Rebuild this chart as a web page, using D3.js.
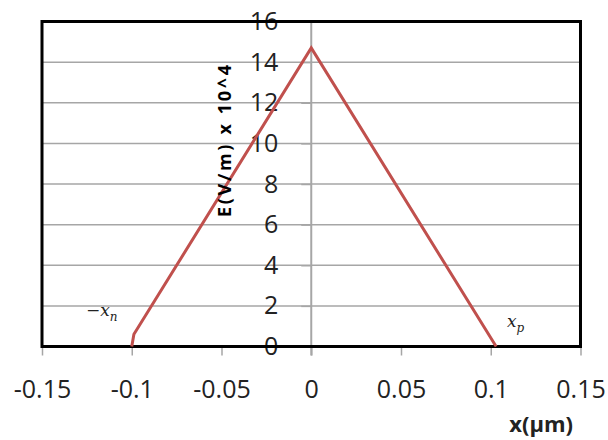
<!DOCTYPE html>
<html>
<head>
<meta charset="utf-8">
<script src="https://cdn.jsdelivr.net/npm/d3@7.9.0/dist/d3.min.js"></script>
<style>
  body { margin: 0; background: #fff; }
  svg { display: block; }
</style>
</head>
<body>
<svg width="608" height="440"></svg>
<script>
// data
const xPos = [-0.1, -0.0988, 0, 0.103];      // x (µm)
const field = [0, 0.6, 14.7, 0];               // E (V/m) x 10^4
const xTicks = [-0.15, -0.1, -0.05, 0, 0.05, 0.1, 0.15];
const yTicks = [0, 2, 4, 6, 8, 10, 12, 14, 16];

const svg = d3.select('svg');
const plotL = 42, plotR = 580.5, plotT = 21.5, plotB = 346.5;

const x = d3.scaleLinear().domain([-0.15, 0.15]).range([plotL, plotR]);
const y = d3.scaleLinear().domain([0, 16]).range([plotB, plotT]);

const grey = '#a6a6a6';
const tickFont = '"Open Sans", sans-serif';

// horizontal gridlines
svg.append('g')
  .selectAll('line')
  .data(yTicks)
  .join('line')
  .attr('x1', plotL).attr('x2', plotR)
  .attr('y1', d => y(d)).attr('y2', d => y(d))
  .attr('stroke', grey).attr('stroke-width', 1.5);

// x axis ticks (below the plot)
const xAxis = svg.append('g')
  .attr('transform', `translate(0,${plotB})`)
  .call(d3.axisBottom(x).tickValues(xTicks).tickSize(9).tickPadding(25)
    .tickFormat(d => String(+d.toFixed(2))));
xAxis.select('.domain').remove();
xAxis.selectAll('line').attr('stroke', grey).attr('stroke-width', 1.5);
xAxis.selectAll('text')
  .attr('font-family', tickFont).attr('font-size', 25).attr('fill', '#222');

// y axis on x = 0
const yAxis = svg.append('g')
  .attr('transform', `translate(${x(0)},0)`)
  .call(d3.axisLeft(y).tickValues(yTicks).tickSize(10).tickPadding(23));
yAxis.select('.domain')
  .attr('stroke', grey).attr('stroke-width', 2)
  .attr('d', `M0,${plotT}V${plotB + 9}`);
yAxis.selectAll('line').attr('stroke', grey).attr('stroke-width', 1.5);
yAxis.selectAll('text')
  .attr('font-family', tickFont).attr('font-size', 25).attr('fill', '#222');

// plot area border
svg.append('rect')
  .attr('x', plotL).attr('y', plotT)
  .attr('width', plotR - plotL).attr('height', plotB - plotT)
  .attr('fill', 'none').attr('stroke', '#000').attr('stroke-width', 3);

// field line
const line = d3.line().x(d => x(d[0])).y(d => y(d[1]));
svg.append('path')
  .datum(d3.zip(xPos, field))
  .attr('d', line)
  .attr('fill', 'none')
  .attr('stroke', '#c0504d')
  .attr('stroke-width', 3)
  .attr('stroke-linejoin', 'miter');

// axis titles
svg.append('text')
  .attr('transform', 'translate(231,141) rotate(-90)')
  .attr('text-anchor', 'middle')
  .attr('font-family', tickFont)
  .attr('font-weight', 'bold')
  .attr('font-size', 18)
  .attr('textLength', 152)
  .attr('lengthAdjust', 'spacing')
  .text('E(V/m) x 10^4');

svg.append('text')
  .attr('x', 573).attr('y', 432)
  .attr('text-anchor', 'end')
  .attr('font-family', tickFont)
  .attr('font-weight', 'bold')
  .attr('font-size', 22)
  .attr('fill', '#222')
  .text('x(μm)');

// depletion edge labels
const serif = '"DejaVu Serif", serif';
const xn = svg.append('text')
  .attr('x', 86).attr('y', 316)
  .attr('font-family', serif).attr('font-style', 'italic')
  .attr('font-size', 17).attr('fill', '#222');
xn.append('tspan').text('−x');
xn.append('tspan').attr('dy', 5).attr('font-size', 12).text('n');

const xp = svg.append('text')
  .attr('x', 507).attr('y', 327)
  .attr('font-family', serif).attr('font-style', 'italic')
  .attr('font-size', 17).attr('fill', '#222');
xp.append('tspan').text('x');
xp.append('tspan').attr('dy', 5).attr('font-size', 12).text('p');
</script>
</body>
</html>
